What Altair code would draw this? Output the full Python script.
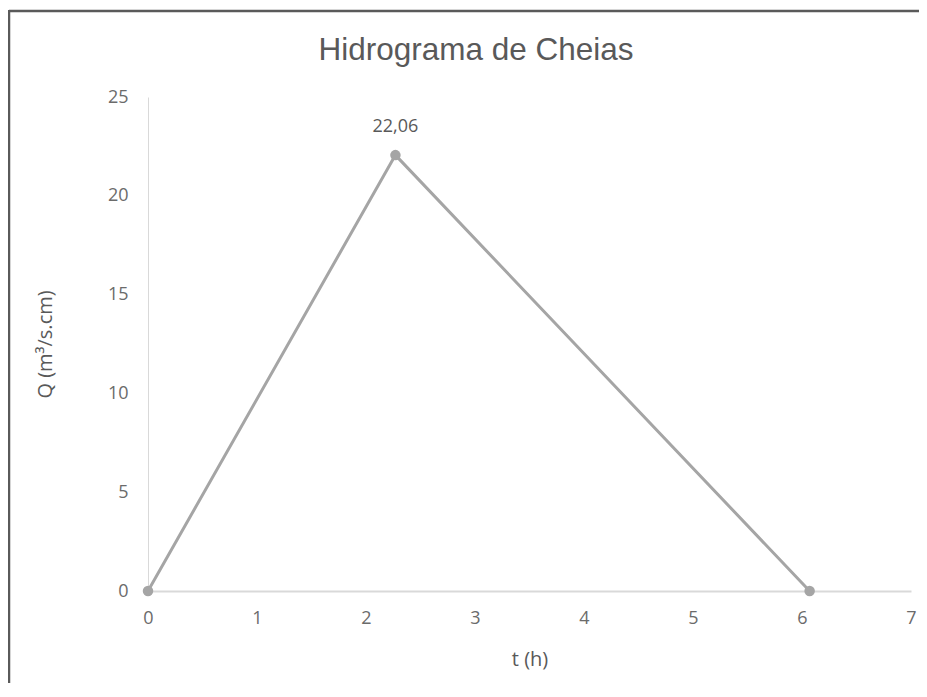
import altair as alt
import pandas as pd

t_h = [0.0, 2.27, 6.07]
q = [0.0, 22.06, 0.0]
peak_label = ["", "22,06", ""]
x_ticks = [0, 1, 2, 3, 4, 5, 6, 7]
y_ticks = [0, 5, 10, 15, 20, 25]
chart_title = "Hidrograma de Cheias"

df = pd.DataFrame({"t": t_h, "q": q, "label": peak_label})

GRAY = "#A5A5A5"
TXT = "#595959"
FONT = "Open Sans"

x = alt.X("t:Q", scale=alt.Scale(domain=[0, 7], nice=False),
          axis=alt.Axis(values=x_ticks, title="t (h)", format="d"))
y = alt.Y("q:Q", scale=alt.Scale(domain=[0, 25], nice=False),
          axis=alt.Axis(values=y_ticks, title="Q (m³/s.cm)", format="d"))

line = alt.Chart(df).mark_line(color=GRAY, strokeWidth=3).encode(x=x, y=y)
pts = alt.Chart(df).mark_circle(color=GRAY, size=110, opacity=1).encode(x=x, y=y)
lbl = alt.Chart(df).mark_text(color=TXT, font=FONT, fontSize=18, dy=-28).encode(
    x=x, y=y, text="label:N")

one = pd.DataFrame({"title": [chart_title]})
title_mark = alt.Chart(one).mark_text(
    font="Liberation Sans", fontSize=31.5, color=TXT, baseline="alphabetic", align="center"
).encode(x=alt.value(328), y=alt.value(-37), text="title:N")

top_border = alt.Chart(one).mark_rule(color="#5a5a5a", strokeWidth=2.5).encode(
    x=alt.value(-139), x2=alt.value(820), y=alt.value(-86))
left_border = alt.Chart(one).mark_rule(color="#5a5a5a", strokeWidth=2.5).encode(
    x=alt.value(-139), y=alt.value(-87), y2=alt.value(720))

chart = alt.layer(line, pts, lbl, title_mark, top_border, left_border).properties(
    width=763, height=494,
    autosize=alt.AutoSizeParams(type="none"),
    padding={"left": 140, "top": 89, "right": 8, "bottom": 92},
).configure_view(stroke=None).configure_axis(
    grid=False, ticks=False, domainColor="#D9D9D9", labelFlush=False,
    labelFont=FONT, labelFontSize=18, labelColor="#6b6b6b",
    titleFont=FONT, titleFontSize=20, titleColor=TXT, titleFontWeight=500,
).configure_axisX(labelPadding=18, titlePadding=22, domainWidth=2
).configure_axisY(labelPadding=20, titlePadding=52, domainWidth=1)

chart.save("out.html", embed_options={"renderer": "svg", "actions": False})
